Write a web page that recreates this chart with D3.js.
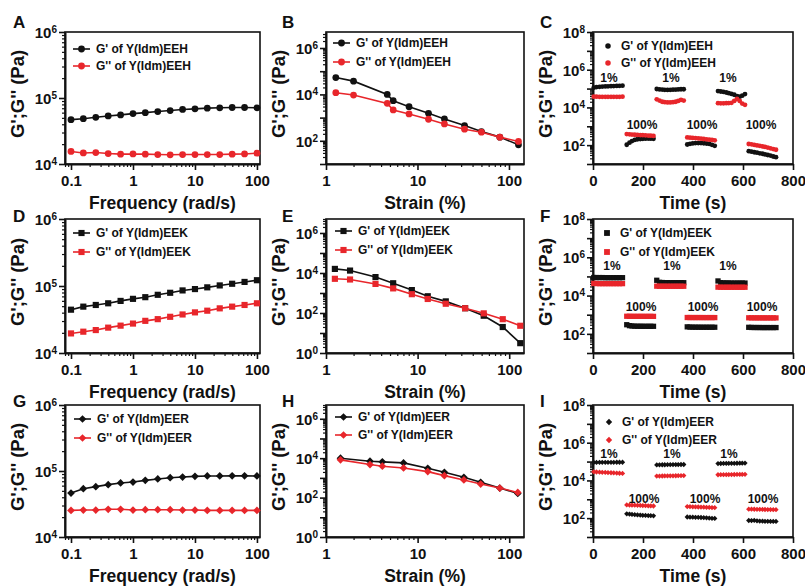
<!DOCTYPE html>
<html><head><meta charset="utf-8">
<script src="https://cdn.jsdelivr.net/npm/d3@7"></script>
<style>
body{margin:0;background:#fff;}
text{font-family:"Liberation Sans",Arial,sans-serif;font-weight:bold;fill:#111;}
</style></head><body>
<svg id="c" width="805" height="587"></svg>
<script>
// ---------------- DATA ----------------
const freq = [0.1,0.158,0.251,0.398,0.631,1,1.58,2.51,3.98,6.31,10,15.8,25.1,39.8,63.1,100];
const EEH_freq_Gp  = [47000,48600,51000,53500,55500,58000,60000,62400,64600,67000,68500,70200,71000,71800,71800,71000];
const EEH_freq_Gpp = [15500,14700,14900,14400,14100,14200,14100,13900,13800,13900,13900,13900,13900,14100,14200,14600];
const EEK_freq_Gp  = [44300,49200,52100,55200,59900,64300,68100,73900,79200,85900,90000,95500,102000,108000,115000,122000];
const EEK_freq_Gpp = [19600,20800,22000,23900,25600,27500,30200,32000,34700,37600,40400,42800,46400,49200,52100,55200];
const EER_freq_Gp  = [46400,54000,57900,62100,65800,68100,72200,75700,79200,81100,83000,84000,84000,84500,84500,84000];
const EER_freq_Gpp = [25300,25600,25600,26300,26300,25600,25900,25900,25900,25600,25600,25300,25300,25300,25300,25300];

const EEH_strain     = [1.28,2.0,4.67,5.43,8.09,13.2,19.7,32.7,50,79.5,127];
const EEH_strain_Gp  = [53500,37300,10000,5350,2960,1530,877,454,251,144,67];
const EEH_strain_Gpp = [11800,9360,4110,2130,1440,849,535,316,235,144,94];
const EEK_strain     = [1.25,1.83,3.47,5.41,8.65,12.9,20.3,33,52.7,85,132];
const EEK_strain_Gp  = [16000,13200,6240,3070,1400,688,381,173,73,19.9,3.1];
const EEK_strain_Gpp = [5120,4730,2840,1700,871,502,290,173,96,49,23];
const EER_strain     = [1.44,3.02,4.12,7.02,12.9,19.6,32,48.8,78.9,124];
const EER_strain_Gp  = [10000,7030,6500,5770,3080,1920,1070,593,305,163];
const EER_strain_Gpp = [8220,4740,3900,3200,2080,1300,782,488,305,183];

const time = [
  3,14,26,37,49,60,72,83,95,106,118,
  135,146,156,167,178,189,199,210,221,231,242,
  255,266,277,287,298,309,320,331,341,352,363,
  377,388,399,410,421,432,443,454,465,476,487,
  500,511,522,533,543,554,565,576,587,597,608,
  623,634,645,656,667,678,688,699,710,721,732];
const EEH_time_Gp = [
  112000,120000,124000,127000,130000,132000,134000,136000,138000,140000,142000,
  105,135,165,190,205,212,216,220,222,220,218,
  95000,90000,88000,86000,85000,86000,87000,88000,90000,92000,92000,
  108,118,124,128,129,128,126,122,116,104,92,
  74000,70000,66000,62000,57000,52000,47000,40000,37000,42000,51000,
  48,45,42,40,37,35,32,30,28,25,23];
const EEH_time_Gpp = [
  37000,37000,36500,36500,36500,36500,36500,36500,36500,36500,37000,
  385,375,365,355,348,342,336,330,322,316,310,
  27000,23000,20000,19000,18500,18500,19000,20000,22000,25000,23000,
  255,248,242,236,228,220,212,204,196,188,180,
  16700,16500,16500,16700,17000,17500,22000,28000,22000,16000,13700,
  115,110,103,97,92,86,80,74,68,62,57];
const EEK_time_Gp = [
  88000,87000,87000,87000,86000,86000,86000,86000,86000,86000,86000,
  300,268,258,252,250,250,248,248,248,248,248,
  63000,49000,48000,47500,47500,47000,47000,47000,47000,47000,47000,
  232,226,224,223,223,222,222,222,222,222,222,
  58000,47000,46000,45500,45500,45000,45000,45000,45000,45000,45000,
  220,216,215,214,214,213,213,213,213,213,213];
const EEK_time_Gpp = [
  43000,42500,42000,42000,42000,42000,42000,42000,42000,42000,42000,
  830,825,820,820,820,820,818,818,818,818,818,
  31000,30800,30700,30700,30700,30700,30700,30700,30700,30700,30700,
  715,712,710,710,710,710,708,708,708,708,708,
  27500,27300,27200,27200,27200,27200,27200,27200,27200,27200,27200,
  690,688,686,684,684,684,682,682,682,682,682];
const EER_time_Gp = [
  90000,90000,91000,91000,91000,91000,91000,91000,92000,92000,92000,
  170,165,158,152,148,145,142,140,137,135,132,
  66000,67000,68000,68000,68500,68500,69000,69000,69500,70000,70000,
  115,113,112,111,110,108,106,104,101,98,96,
  78000,79000,80000,80000,80500,81000,81000,81500,82000,82000,83000,
  75,74,76,72,70,69,68,68,67,67,67];
const EER_time_Gpp = [
  28500,28000,27500,27000,26500,26000,25500,25000,24500,24000,23500,
  500,495,490,485,480,472,465,458,450,445,440,
  17000,17100,17200,17300,17400,17500,17600,17700,17800,17900,18000,
  410,405,400,395,390,385,380,375,370,365,360,
  20000,20100,20200,20300,20400,20500,20600,20700,20800,20900,21000,
  300,298,296,294,292,290,288,286,284,282,280];

const stepLabels = ['1%','100%','1%','100%','1%','100%'];
const EEH_step_t = [64,196,312,436,540,672];
const EEH_step_v = [3.6e5,1150,3.6e5,1150,3.6e5,1150];
const EEK_step_t = [76,192,316,440,540,676];
const EEK_step_v = [3.5e5,2600,3.5e5,2600,3.5e5,2600];
const EER_step_t = [64,204,316,448,544,680];
const EER_step_v = [2.6e5,1100,2.6e5,1100,2.6e5,1100];

const freqTicks = [0.1,1,10,100];
const strainTicks = [1,10,100];
const timeTicks = [0,200,400,600,800];
const yTicksFreq = [1e4,1e5,1e6];
const yTicksStrainB = [1e2,1e4,1e6];
const yTicksStrain = [1e0,1e2,1e4,1e6];
const yTicksTime = [1e2,1e4,1e6,1e8];

const peptides = ['EEH','EEK','EER'];
const panelLetters = ['A','B','C','D','E','F','G','H','I'];
const xTitles = ['Frequency (rad/s)','Strain (%)','Time (s)'];
const yTitle = "G';G'' (Pa)";

// ---------------- LAYOUT ----------------
const RED = '#e8262b', BLACK = '#111';
const rows = [
  {top:32, bottom:164, letterY:28},
  {top:219, bottom:353, letterY:222},
  {top:405, bottom:537, letterY:407}
];
const cols = [
  {left:65, right:260, letterX:13},
  {left:326, right:524, letterX:282},
  {left:593, right:793, letterX:540}
];
// row 0: circles, row 1: squares, row 2: diamonds (rotated squares)
const symbols = [d3.symbolCircle, d3.symbolSquare, d3.symbolSquare];
const symRot = [0, 0, 45];

const panels = [
  {r:0,c:0,kind:'freq',x:freq,gp:EEH_freq_Gp,gpp:EEH_freq_Gpp,xd:[0.08,112],yd:[1e4,1e6],xt:freqTicks,yt:yTicksFreq,leg:[8,17,17]},
  {r:0,c:1,kind:'strain',x:EEH_strain,gp:EEH_strain_Gp,gpp:EEH_strain_Gpp,xd:[1,146],yd:[10,4.9e6],xt:strainTicks,yt:yTicksStrainB,leg:[7,11,19]},
  {r:0,c:2,kind:'time',x:time,gp:EEH_time_Gp,gpp:EEH_time_Gpp,xd:[0,800],yd:[10,1e8],xt:timeTicks,yt:yTicksTime,leg:[15,14,17],st:EEH_step_t,sv:EEH_step_v},
  {r:1,c:0,kind:'freq',x:freq,gp:EEK_freq_Gp,gpp:EEK_freq_Gpp,xd:[0.08,112],yd:[1e4,1e6],xt:freqTicks,yt:yTicksFreq,leg:[8,14,19]},
  {r:1,c:1,kind:'strain',x:EEK_strain,gp:EEK_strain_Gp,gpp:EEK_strain_Gpp,xd:[1,145],yd:[1,5e6],xt:strainTicks,yt:yTicksStrain,leg:[9,12,19]},
  {r:1,c:2,kind:'time',x:time,gp:EEK_time_Gp,gpp:EEK_time_Gpp,xd:[0,800],yd:[10,1e8],xt:timeTicks,yt:yTicksTime,leg:[14,14,19],st:EEK_step_t,sv:EEK_step_v},
  {r:2,c:0,kind:'freq',x:freq,gp:EER_freq_Gp,gpp:EER_freq_Gpp,xd:[0.08,112],yd:[1e4,1e6],xt:freqTicks,yt:yTicksFreq,leg:[9,14,19]},
  {r:2,c:1,kind:'strain',x:EER_strain,gp:EER_strain_Gp,gpp:EER_strain_Gpp,xd:[1,145],yd:[1,5e6],xt:strainTicks,yt:yTicksStrain,leg:[9,12,18]},
  {r:2,c:2,kind:'time',x:time,gp:EER_time_Gp,gpp:EER_time_Gpp,xd:[0,800],yd:[10,1e8],xt:timeTicks,yt:yTicksTime,leg:[16,17,18],st:EER_step_t,sv:EER_step_v}
];

const svg = d3.select('#c');

function logMinor(dom){
  const out=[];const lo=Math.floor(Math.log10(dom[0])),hi=Math.ceil(Math.log10(dom[1]));
  for(let d=lo;d<=hi;d++)for(let m=2;m<=9;m++){const v=m*Math.pow(10,d);if(v>=dom[0]*0.999&&v<=dom[1]*1.001)out.push(v);}
  return out;
}
function logMajor(dom){
  const out=[];const lo=Math.ceil(Math.log10(dom[0])-1e-9),hi=Math.floor(Math.log10(dom[1])+1e-9);
  for(let d=lo;d<=hi;d++)out.push(Math.pow(10,d));return out;
}
function hasLabel(arr,v){return arr.some(a=>Math.abs(Math.log10(a)-Math.log10(v))<1e-6);}

function styleAxis(sel,w){
  sel.select('.domain').attr('stroke',BLACK).attr('stroke-width',2);
  sel.selectAll('.tick line').attr('stroke',BLACK).attr('stroke-width',w);
  sel.selectAll('.tick text').attr('fill',BLACK);
}

panels.forEach((p,i)=>{
  const R=rows[p.r],C=cols[p.c];
  const left=C.left,right=C.right,top=R.top,bottom=R.bottom;
  const g=svg.append('g');
  const x=(p.kind==='time'?d3.scaleLinear():d3.scaleLog()).domain(p.xd).range([left,right]);
  const y=d3.scaleLog().domain(p.yd).range([bottom,top]);

  g.append('rect').attr('x',left).attr('y',top).attr('width',right-left).attr('height',bottom-top)
    .attr('fill','none').attr('stroke',BLACK).attr('stroke-width',1.6);

  const ym=g.append('g').attr('transform',`translate(${left},0)`)
    .call(d3.axisLeft(y).tickValues(logMinor(p.yd)).tickSize(3).tickFormat(''));
  ym.select('.domain').remove(); styleAxis(ym,1.2);
  const ya=g.append('g').attr('transform',`translate(${left},0)`)
    .call(d3.axisLeft(y).tickValues(logMajor(p.yd)).tickSize(6).tickSizeOuter(0).tickPadding(2).tickFormat(''));
  styleAxis(ya,1.6);
  ya.selectAll('.tick').each(function(v){
    if(!hasLabel(p.yt,v))return;
    const t=d3.select(this).append('text').attr('x',-8).attr('dy','0.36em')
      .attr('text-anchor','end').style('font-size','15px').attr('fill',BLACK);
    t.append('tspan').text('10');
    t.append('tspan').attr('dy','-0.5em').style('font-size','10px').text(Math.round(Math.log10(v)));
  });

  if(p.kind!=='time'){
    const xm=g.append('g').attr('transform',`translate(0,${bottom})`)
      .call(d3.axisBottom(x).tickValues(logMinor(p.xd)).tickSize(3).tickFormat(''));
    xm.select('.domain').remove(); styleAxis(xm,1.2);
  }
  const xa=g.append('g').attr('transform',`translate(0,${bottom})`)
    .call(d3.axisBottom(x).tickValues(p.kind==='time'?p.xt:logMajor(p.xd)).tickSize(6).tickSizeOuter(0).tickPadding(5)
      .tickFormat(v=>p.xt.some(a=>Math.abs(a-v)<1e-9)?String(v):''));
  styleAxis(xa,1.6);
  xa.selectAll('.tick text').style('font-size','15px').style('font-family','"Liberation Sans",Arial,sans-serif').style('font-weight','bold');

  g.append('text').attr('x',(left+right)/2).attr('y',bottom+45).attr('text-anchor','middle')
    .style('font-size','17.5px').text(xTitles[p.c]);
  g.append('text').attr('transform',`translate(${left-47},${(top+bottom)/2-4}) rotate(-90)`)
    .attr('text-anchor','middle').attr('dy','0.35em').style('font-size','18.5px').text(yTitle);
  g.append('text').attr('x',C.letterX).attr('y',R.letterY).style('font-size','17px').text(panelLetters[i]);

  const sym=symbols[p.r], rot=symRot[p.r];
  const pep=peptides[p.r];
  const series=[{v:p.gp,col:BLACK,lab:`G' of Y(Idm)${pep}`},{v:p.gpp,col:RED,lab:`G'' of Y(Idm)${pep}`}];
  const isLine=p.kind!=='time';
  const msize=isLine?(p.r===0?36:(p.r===1?38:30)):(p.r===0?18:(p.r===1?28:14));

  const dg=g.append('g');
  series.forEach(s=>{
    const pts=p.x.map((xv,k)=>[xv,s.v[k]]);
    if(isLine){
      dg.append('path').datum(pts).attr('fill','none').attr('stroke',s.col).attr('stroke-width',1.6)
        .attr('d',d3.line().x(d=>x(d[0])).y(d=>y(d[1])));
    }
    dg.selectAll(null).data(pts).enter().append('path')
      .attr('transform',d=>`translate(${x(d[0])},${y(d[1])}) rotate(${rot})`)
      .attr('d',d3.symbol().type(sym).size(msize)).attr('fill',s.col);
  });

  if(p.st){
    p.st.forEach((t,k)=>{
      g.append('text').attr('x',x(t)).attr('y',y(p.sv[k])).attr('dy','0.36em').attr('text-anchor','middle')
        .style('font-size','12px').text(stepLabels[k]);
    });
  }

  const [lx,ly,lgap]=p.leg;
  series.forEach((s,k)=>{
    const yy=top+ly+k*lgap;
    const x0=left+lx;
    if(isLine){
      g.append('line').attr('x1',x0).attr('x2',x0+17).attr('y1',yy).attr('y2',yy).attr('stroke',s.col).attr('stroke-width',1.6);
      g.append('path').attr('transform',`translate(${x0+8.5},${yy}) rotate(${rot})`).attr('d',d3.symbol().type(sym).size(msize)).attr('fill',s.col);
      g.append('text').attr('x',x0+23).attr('y',yy).attr('dy','0.36em').style('font-size','12px').text(s.lab);
    } else {
      g.append('path').attr('transform',`translate(${x0},${yy}) rotate(${rot})`).attr('d',d3.symbol().type(sym).size(msize+6)).attr('fill',s.col);
      g.append('text').attr('x',x0+13).attr('y',yy).attr('dy','0.36em').style('font-size','12px').text(s.lab);
    }
  });
});
</script>
</body></html>
